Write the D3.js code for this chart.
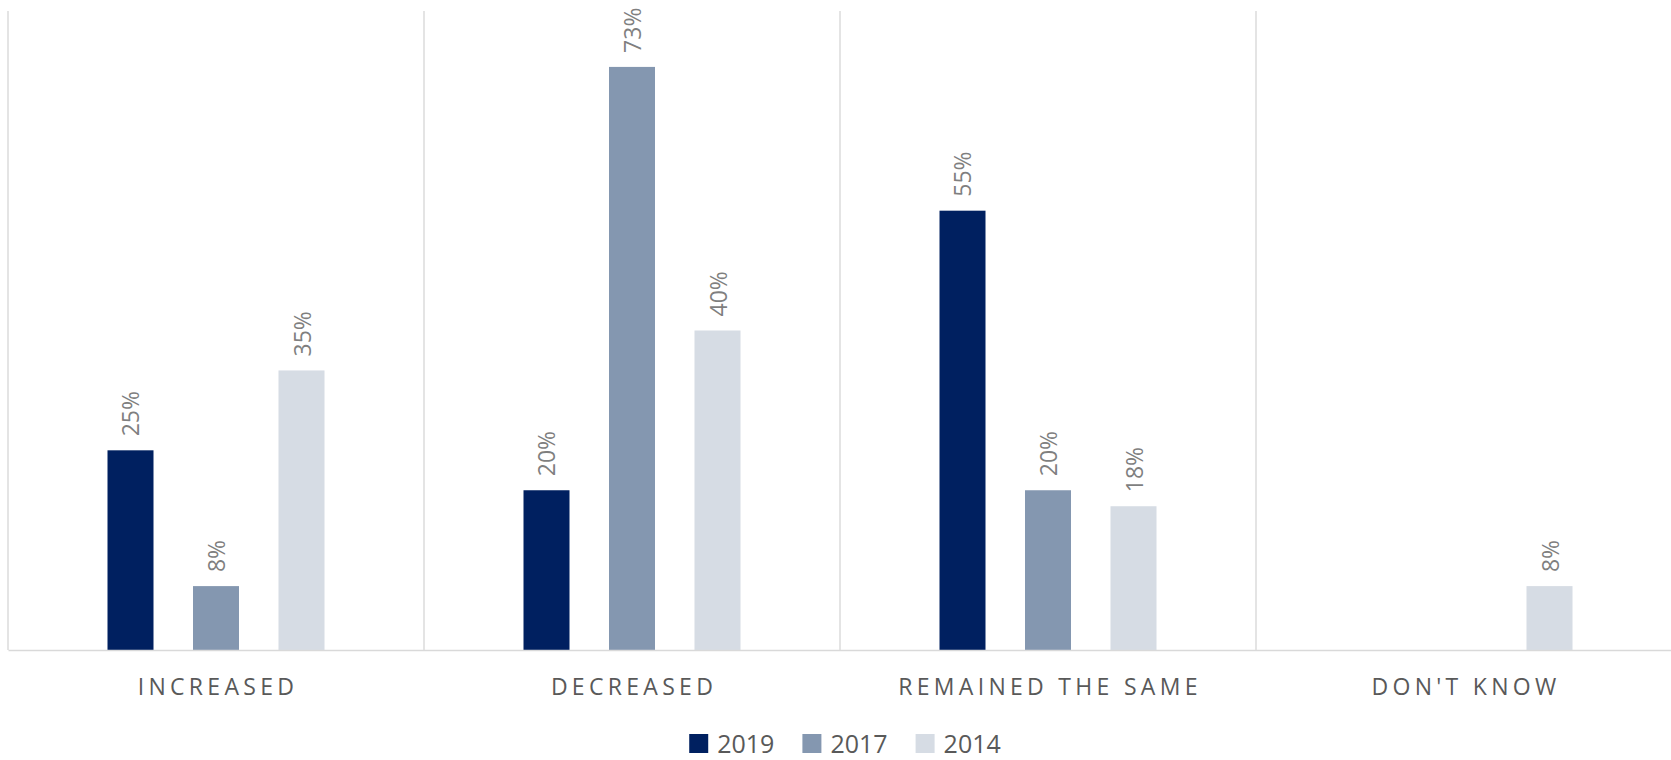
<!DOCTYPE html>
<html>
<head>
<meta charset="utf-8">
<script src="https://cdn.jsdelivr.net/npm/d3@7"></script>
<style>
  html, body { margin: 0; padding: 0; background: #fff; }
  svg { display: block; }
</style>
</head>
<body>
<svg id="chart" width="1671" height="760"></svg>
<script>
// ---- data ----
const categories = ["INCREASED", "DECREASED", "REMAINED THE SAME", "DON'T KNOW"];
const seriesNames = ["2019", "2017", "2014"];
const values2019 = [25, 20, 55, null];
const values2017 = [8, 73, 20, null];
const values2014 = [35, 40, 18, 8];
const seriesColors = ["#002060", "#8497B0", "#D6DCE4"];
const yMax = 80;

const seriesValues = [values2019, values2017, values2014];

// ---- layout ----
const svg = d3.select("#chart");
const plotLeft = 8, plotRight = 1672, plotTop = 11, plotBottom = 650;

const x0 = d3.scaleBand().domain(categories).range([plotLeft, plotRight]).paddingInner(0).paddingOuter(0);
const x1 = d3.scaleBand().domain(seriesNames).range([99.5, 316.5]).paddingInner(0.462).paddingOuter(0);
const y = d3.scaleLinear().domain([0, yMax]).range([plotBottom, plotTop]);

const gridColor = "#d9d9d9";

// vertical category separators
svg.append("g").selectAll("line")
  .data(categories)
  .join("line")
  .attr("x1", d => x0(d)).attr("x2", d => x0(d))
  .attr("y1", plotTop).attr("y2", plotBottom)
  .attr("stroke", gridColor).attr("stroke-width", 1.4);

// bars
const groups = svg.append("g").selectAll("g")
  .data(categories)
  .join("g")
  .attr("transform", d => `translate(${x0(d)},0)`);

const barData = (cat, ci) => seriesNames.map((s, si) => ({ s, si, v: seriesValues[si][ci] })).filter(d => d.v !== null);

groups.each(function(cat, ci) {
  const g = d3.select(this);
  const data = barData(cat, ci);
  g.selectAll("rect").data(data).join("rect")
    .attr("x", d => x1(d.s))
    .attr("width", x1.bandwidth())
    .attr("y", d => y(d.v))
    .attr("height", d => y(0) - y(d.v))
    .attr("fill", d => seriesColors[d.si]);
  g.selectAll("text").data(data).join("text")
    .attr("transform", d => `translate(${x1(d.s) + x1.bandwidth() / 2},${y(d.v) - 14}) rotate(-90)`)
    .attr("text-anchor", "start")
    .attr("dominant-baseline", "central")
    .attr("font-family", "'Open Sans', sans-serif")
    .attr("font-size", 23)
    .attr("fill", "#7f7f7f")
    .text(d => d.v + "%");
});

// baseline axis
const xAxis = d3.axisBottom(x0).tickSize(0).tickPadding(0);
const axisG = svg.append("g").attr("transform", `translate(0,${plotBottom})`).call(xAxis);
axisG.select(".domain").attr("stroke", gridColor).attr("stroke-width", 1.6);
axisG.selectAll(".tick text")
  .attr("y", 37)
  .attr("dy", "0.35em")
  .attr("font-family", "'Open Sans', sans-serif")
  .attr("font-size", 23)
  .attr("letter-spacing", "4.3px")
  .attr("fill", "#595959")
  .attr("dx", "2px");

// legend
const legend = svg.append("g");
const legendItems = legend.selectAll("g").data(seriesNames).join("g");
legendItems.append("rect")
  .attr("width", 19).attr("height", 19)
  .attr("y", -10)
  .attr("fill", (d, i) => seriesColors[i]);
legendItems.append("text")
  .attr("x", 28)
  .attr("y", 8.5)
  .attr("font-family", "'Open Sans', sans-serif")
  .attr("font-size", 25)
  .attr("fill", "#595959")
  .text(d => d);
let offset = 0;
const gap = 28;
legendItems.each(function() {
  const w = 28 + d3.select(this).select("text").node().getComputedTextLength();
  d3.select(this).attr("data-off", offset);
  offset += w + gap;
});
const totalW = offset - gap;
const legendCenter = 845;
legendItems.attr("transform", function() {
  const off = +d3.select(this).attr("data-off");
  return `translate(${legendCenter - totalW / 2 + off},744)`;
});
</script>
</body>
</html>
